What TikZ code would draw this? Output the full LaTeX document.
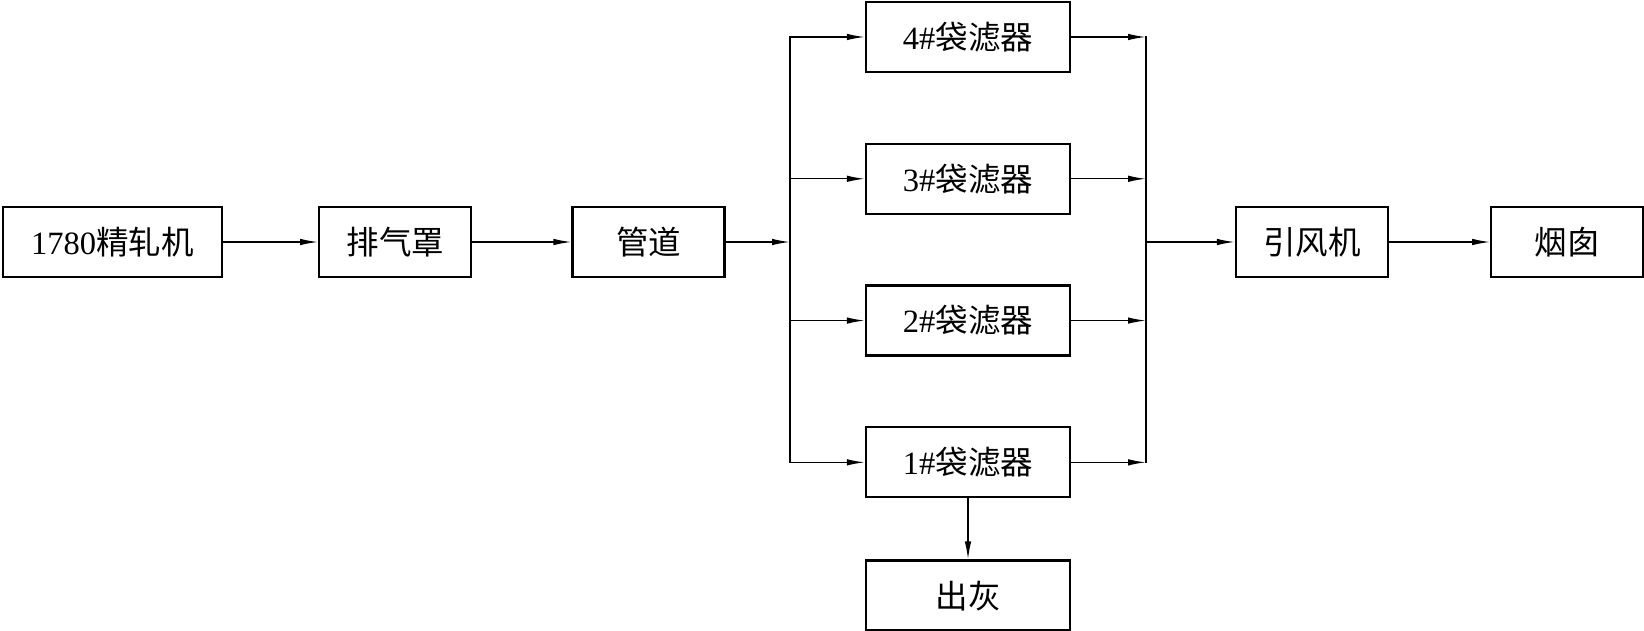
\documentclass[tikz,border=0pt]{standalone}
\usepackage{fontspec}
\setmainfont{Liberation Serif}
\newfontfamily\cjk{Noto Sans CJK SC}
\usepackage{tikz}
\usetikzlibrary{arrows.meta,positioning}
\newcommand{\zh}[1]{{\cjk #1}}
\tikzset{
  arr/.style={-{Latex[length=3.6mm,width=1.3mm]},line width=0.8pt,draw=black},
  bus/.style={line width=0.8pt,line cap=rect},
  flowbox/.style={draw=black,line width=1.3pt,fill=white,minimum height=1.4cm,
    minimum width=3.04cm,inner sep=0pt,font=\fontsize{18.5}{22}\selectfont},
  filterbox/.style={flowbox,minimum width=4.08cm}
}
\begin{document}
\begin{tikzpicture}
  \useasboundingbox (0,0) rectangle (32.88,-12.62);
  % main row
  \node[flowbox,minimum width=4.38cm] (mill) at (2.25,-4.84) {1780\zh{精轧机}};
  \node[flowbox,right=1.9cm of mill] (hood) {\zh{排气罩}};
  \node[flowbox,right=1.98cm of hood] (duct) {\zh{管道}};
  % bag filters
  \node[filterbox] (f4) at (19.36,-0.74) {4\#\zh{袋滤器}};
  \node[filterbox,below=1.39cm of f4] (f3) {3\#\zh{袋滤器}};
  \node[filterbox,below=1.39cm of f3] (f2) {2\#\zh{袋滤器}};
  \node[filterbox,below=1.39cm of f2] (f1) {1\#\zh{袋滤器}};
  \node[filterbox,below=1.22cm of f1] (ash) {\zh{出灰}};
  \node[flowbox] (fan) at (26.24,-4.84) {\zh{引风机}};
  \node[flowbox,right=2.02cm of fan] (stack) {\zh{烟囱}};
  \coordinate (busL) at (15.8,-4.84);
  \coordinate (busR) at (22.92,-4.84);
  % connectors
  \draw[arr] (mill)--(hood);\draw[arr] (hood)--(duct);
  \draw[arr] (duct)--(busL);
  \draw[bus] (busL |- f4) -- (busL |- f1);
  \draw[bus] (busR |- f4) -- (busR |- f1);
  \foreach \f in {f4,f3,f2,f1}{
    \draw[arr] (busL |- \f) -- (\f.west);
    \draw[arr] (\f.east) -- (busR |- \f);
  }
  \draw[arr] (busR)--(fan);\draw[arr] (fan)--(stack);
  \draw[arr] (f1.south)--(ash.north);
\end{tikzpicture}
\end{document}
